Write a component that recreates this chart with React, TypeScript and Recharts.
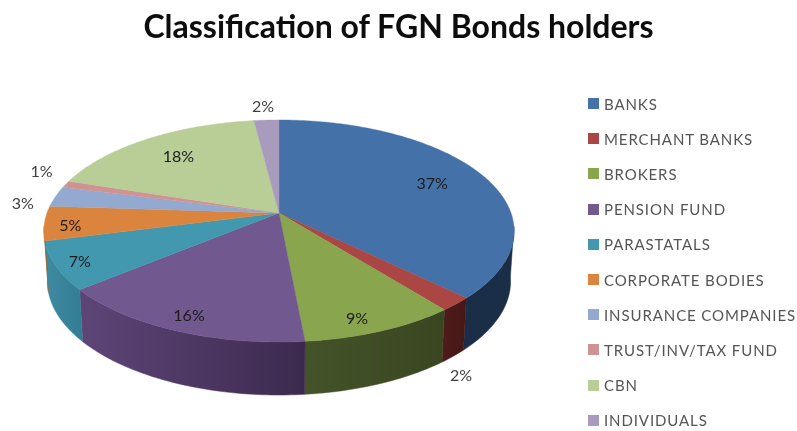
import React from "react";
import { PieChart, Pie, Legend } from "recharts";

const categories = ["BANKS", "MERCHANT BANKS", "BROKERS", "PENSION FUND", "PARASTATALS", "CORPORATE BODIES", "INSURANCE COMPANIES", "TRUST/INV/TAX FUND", "CBN", "INDIVIDUALS"];
const shares = [37.3, 2, 9.2, 15.5, 7, 5, 3, 1, 18, 2];
const topColors = ["#4472A8", "#AA4643", "#89A54E", "#71588F", "#4198AF", "#DB843D", "#93A9CF", "#D19392", "#B9CD96", "#A99BBD"];
const wallFrom = ["#1A2E47", "#4F1C1A", "#44532A", "#5E4578", "#3E8BA2", "#A0602A", "#6C7D99", "#9A6C6B", "#89976E", "#7D7290"];
const wallTo = ["#1A2E47", "#451815", "#3A4620", "#3C2A4E", "#337C93", "#A0602A", "#6C7D99", "#9A6C6B", "#89976E", "#7D7290"];
const labelRadius = [0.75, 1.06, 0.88, 0.88, 0.9, 0.9, 1.1, 1.13, 0.76, 1.13];
const labelDepthShift = [0, 64, 3, 0, 0, 2, 8, -10, 0, -4];
const labelSideShift = [0, -7, -10, 0, 0, 2, -11, 2, 2, -2];

const tableData = categories.map((name, i) => ({ name, value: shares[i], fill: topColors[i] }));

const PERSPECTIVE = 0.162;
const SQUASH = 0.466;
const RAD = Math.PI / 180;

function project(cx: number, cy: number, R: number, deg: number, r = 1) {
  const c = Math.cos(deg * RAD);
  const s = Math.sin(deg * RAD);
  const d = 1 + PERSPECTIVE * r * s;
  return { x: cx + (R * r * c) / d, y: cy - (R * SQUASH * r * s) / d };
}

function lower(p: { x: number; y: number }, cx: number, cy: number) {
  return { x: cx + (p.x - cx) * 0.985, y: p.y + 50 + (3 * (p.y - cy)) / 129 };
}

function arc(cx: number, cy: number, R: number, from: number, to: number) {
  const n = Math.max(2, Math.ceil(Math.abs(from - to)));
  const pts = [];
  for (let i = 0; i <= n; i++) pts.push(project(cx, cy, R, from + ((to - from) * i) / n));
  return pts;
}

const toPath = (pts: { x: number; y: number }[]) => pts.map((p, i) => `${i ? "L" : "M"}${p.x.toFixed(2)},${p.y.toFixed(2)}`).join("") + "Z";

function Slice(props: any) {
  const { cx, cy, outerRadius, startAngle, endAngle, fill, name } = props;
  const idx = categories.indexOf(name);
  const hi = Math.min(startAngle, -7);
  const lo = Math.max(endAngle, -173);
  const top = arc(cx, cy, outerRadius, startAngle, endAngle);
  const gid = `wall-${idx}`;
  let wall = null;
  if (hi > lo) {
    const upper = arc(cx, cy, outerRadius, hi, lo);
    const low = upper.map((p) => lower(p, cx, cy)).reverse();
    wall = (
      <g>
        <defs>
          <linearGradient id={gid} x1="0" y1="0" x2="1" y2="0">
            <stop offset="0" stopColor={wallFrom[idx]} />
            <stop offset="1" stopColor={wallTo[idx]} />
          </linearGradient>
        </defs>
        <path d={toPath([...upper, ...low])} fill={`url(#${gid})`} stroke={`url(#${gid})`} strokeWidth={0.5} />
      </g>
    );
  }
  return (
    <g>
      {wall}
      <path d={toPath([{ x: cx, y: cy }, ...top])} fill={fill} stroke={fill} strokeWidth={0.4} />
    </g>
  );
}

function PctLabel(props: any) {
  const { cx, cy, outerRadius, midAngle, index, value } = props;
  const p = project(cx, cy, outerRadius, midAngle, labelRadius[index]);
  const outside = labelRadius[index] > 1;
  return (
    <text
      x={p.x + labelSideShift[index]}
      y={p.y + labelDepthShift[index]}
      textAnchor="middle"
      dominantBaseline="central"
      fontFamily="Lato"
      fontSize={16}
      fill={outside ? "#404040" : "#1c1c1c"}
    >
      {Math.round(value)}%
    </text>
  );
}

function LegendList({ payload }: any) {
  return (
    <div style={{ fontFamily: "Lato", fontSize: 15, color: "#555555", letterSpacing: 0.9 }}>
      {(payload || []).map((item: any) => (
        <div key={item.value} style={{ height: 35.2, display: "flex", alignItems: "center", whiteSpace: "nowrap" }}>
          <span style={{ width: 11, height: 11, background: item.color, marginRight: 5, flex: "none" }} />
          {item.value}
        </div>
      ))}
    </div>
  );
}

export default function App() {
  return (
    <div style={{ position: "absolute", left: 0, top: 0, width: 797, height: 431, background: "#fff", overflow: "hidden", filter: "blur(0.5px)" }}>
      <div style={{ position: "absolute", left: 0, width: 797, top: 6, textAlign: "center", fontFamily: "Lato", fontWeight: 700, fontSize: 32, color: "#0d0d0d" }}>
        Classification of FGN Bonds holders
      </div>
      <PieChart width={797} height={431} margin={{ top: 0, right: 0, bottom: 0, left: 0 }}>
        <Pie
          data={tableData}
          dataKey="value"
          nameKey="name"
          cx={279}
          cy={213}
          innerRadius={0}
          outerRadius={232}
          startAngle={90}
          endAngle={-270}
          paddingAngle={0}
          stroke="none"
          shape={Slice}
          label={PctLabel}
          labelLine={false}
          isAnimationActive={false}
        />
        <Legend
          layout="vertical"
          align="right"
          verticalAlign="top"
          itemSorter={null}
          content={<LegendList />}
          wrapperStyle={{ left: 588, top: 86, width: 209 }}
        />
      </PieChart>
    </div>
  );
}
